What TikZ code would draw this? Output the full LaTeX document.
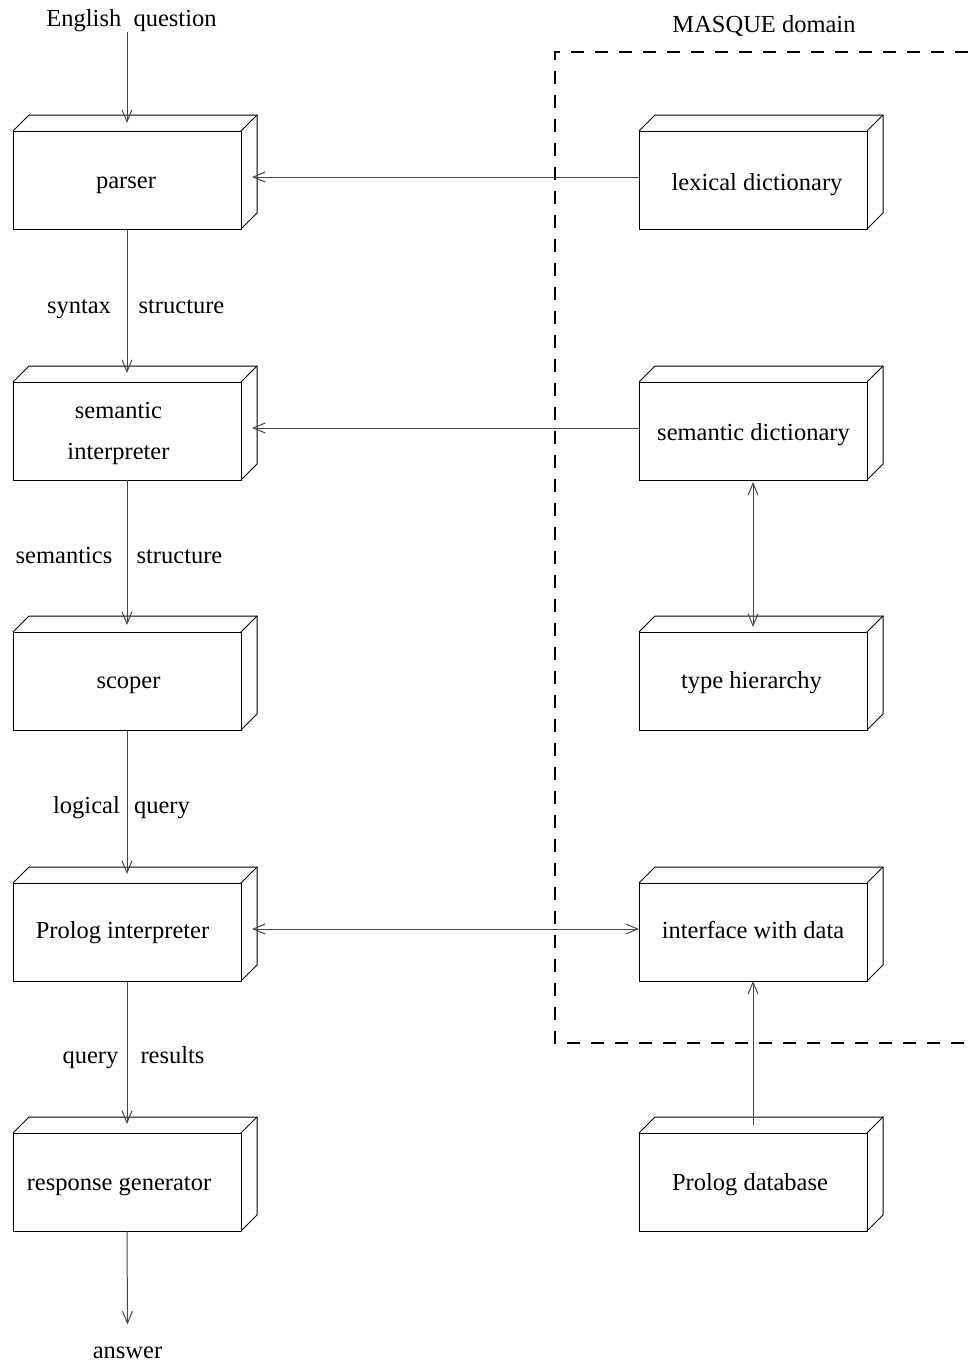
\documentclass[tikz,border=0pt]{standalone}
\usepackage{fontspec}
\setmainfont{Liberation Serif}
\usetikzlibrary{arrows.meta,calc}
\tikzset{
  boxface/.style={draw=black, line width=1pt, minimum width=228pt, minimum height=98pt, inner sep=0pt, outer sep=0pt},
  boxline/.style={draw=black, line width=1pt, line join=miter},
  txt/.style={inner sep=0pt, outer sep=0pt, anchor=base, font=\fontsize{24.5}{41}\selectfont},
  arr/.style={draw=black!72, line width=1pt, -{Straight Barb[length=12pt,width=10pt]}},
  darr/.style={draw=black!72, line width=1pt, {Straight Barb[length=12pt,width=10pt]}-{Straight Barb[length=12pt,width=10pt]}},
  masqueline/.style={draw=black, line width=1.8pt, dash pattern=on 13pt off 11pt}
}
\newcommand\cubeback[1]{%
  \draw[boxline] (#1.north west) -- ++(16,-16) -- ($(#1.north east)+(16,-16)$) -- ($(#1.south east)+(16,-16)$) -- (#1.south east);
  \draw[boxline] (#1.north east) -- ++(16,-16);
}
\begin{document}
\begin{tikzpicture}[x=1pt,y=-1pt]
\useasboundingbox (0,0) rectangle (968,1365);

% dashed MASQUE domain
\draw[masqueline] (968,52) -| (555,1043) -- (968,1043);
\node[txt] (masque) at (764,32) {MASQUE domain};

% left column boxes
\node[boxface] (parser) at (127,180) {};
\node[boxface] (semi) at (127,431) {};
\node[boxface] (scoper) at (127,681) {};
\node[boxface] (pint) at (127,932) {};
\node[boxface] (resp) at (127,1182) {};
% right column boxes
\node[boxface] (lex) at (753,180) {};
\node[boxface] (semd) at (753,431) {};
\node[boxface] (type) at (753,681) {};
\node[boxface] (iface) at (753,932) {};
\node[boxface] (pdb) at (753,1182) {};

\cubeback{parser}\cubeback{semi}\cubeback{scoper}\cubeback{pint}\cubeback{resp}
\cubeback{lex}\cubeback{semd}\cubeback{type}\cubeback{iface}\cubeback{pdb}

% box texts
\node[txt] (parsert) at (126,188) {parser};
\node[txt, align=center] (semit) at (118.5,459) {semantic\\interpreter};
\node[txt] (scopert) at (128.5,688) {scoper};
\node[txt] (pintt) at (122.5,938) {Prolog interpreter};
\node[txt] (respt) at (119,1190) {response generator};
\node[txt] (lext) at (757,190) {lexical dictionary};
\node[txt] (semdt) at (753.5,440) {semantic dictionary};
\node[txt] (typet) at (751.5,688) {type hierarchy};
\node[txt] (ifacet) at (753,938) {interface with data};
\node[txt] (pdbt) at (750,1190) {Prolog database};

% outside texts
\node[txt] (eq) at (131.5,27) {English\ \ question};
\node[txt] (ans) at (127.5,1358) {answer};

% arrow labels
\node[txt] at (79,313) {syntax};
\node[txt] at (181.5,313) {structure};
\node[txt] at (64,563) {semantics};
\node[txt] at (179.5,563) {structure};
\node[txt] at (86.5,813) {logical};
\node[txt] at (162,813) {query};
\node[txt] at (90.5,1063) {query};
\node[txt] at (172.5,1063) {results};

% vertical flow
\draw[arr] (eq.south -| parser.north) -- ([yshift=8pt]parser.north);
\draw[arr] (parser.south) -- ([yshift=9pt]semi.north);
\draw[arr] (semi.south) -- ([yshift=7pt]scoper.north);
\draw[arr] (scoper.south) -- ([yshift=9pt]pint.north);
\draw[arr] (pint.south) -- ([yshift=9pt]resp.north);
\draw[arr] (resp.south) -- ([yshift=22pt]ans.north);

% horizontal connectors
\draw[arr] ([yshift=3pt]lex.west) -- ([xshift=11pt,yshift=3pt]parser.east);
\draw[arr] ([yshift=3pt]semd.west) -- ([xshift=11pt,yshift=3pt]semi.east);
\draw[darr] ([xshift=11pt,yshift=3pt]pint.east) -- ([yshift=3pt]iface.west);

% right column connectors
\draw[darr] ([yshift=-2pt]semd.south) -- ([yshift=5pt]type.north);
\draw[arr] ([yshift=8pt]pdb.north) -- (iface.south);
\end{tikzpicture}
\end{document}
